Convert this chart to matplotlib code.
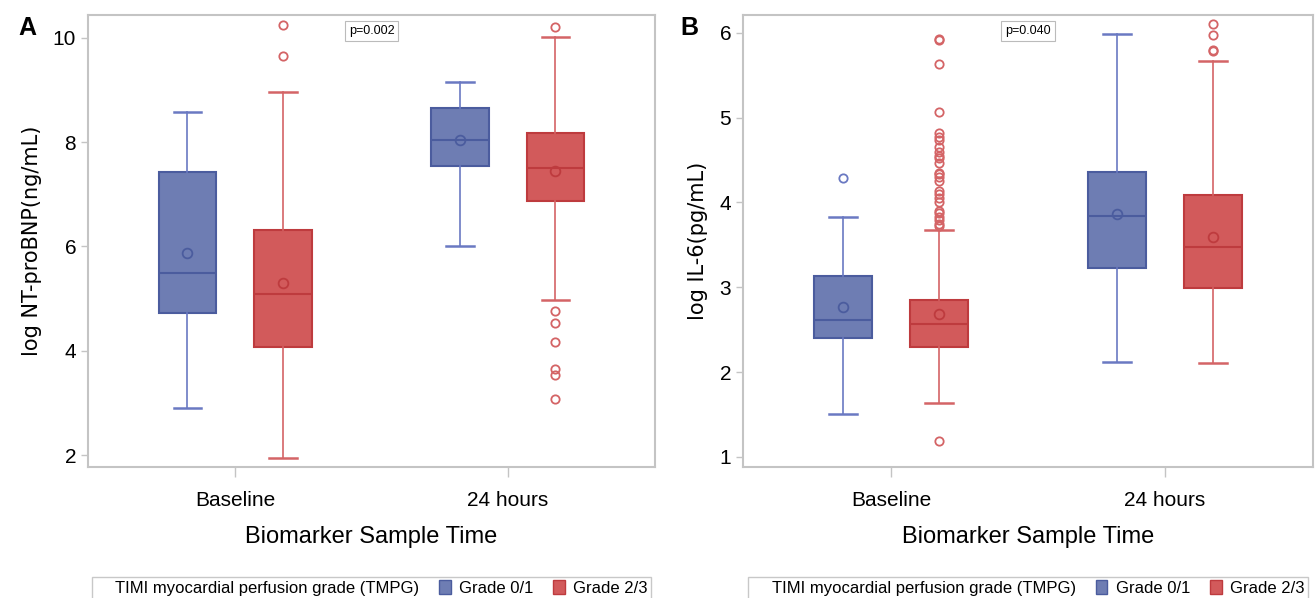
import matplotlib
matplotlib.use("Agg")
import matplotlib.pyplot as plt
from matplotlib.patches import Patch

plt.rcParams['font.family'] = ['Liberation Sans', 'DejaVu Sans']

# categories and groups
times = ["Baseline", "24 hours"]
groups = ["Grade 0/1", "Grade 2/3"]
legend_title = "TIMI myocardial perfusion grade (TMPG)"

# Panel A: log NT-proBNP, per group -> [Baseline, 24 hours]
a_q1 = {"Grade 0/1": [4.73, 7.54], "Grade 2/3": [4.08, 6.88]}
a_med = {"Grade 0/1": [5.50, 8.04], "Grade 2/3": [5.09, 7.51]}
a_q3 = {"Grade 0/1": [7.43, 8.65], "Grade 2/3": [6.31, 8.17]}
a_lo = {"Grade 0/1": [2.90, 6.01], "Grade 2/3": [1.95, 4.98]}
a_hi = {"Grade 0/1": [8.57, 9.16], "Grade 2/3": [8.96, 10.02]}
a_mean = {"Grade 0/1": [5.87, 8.05], "Grade 2/3": [5.29, 7.44]}
a_out = {"Grade 0/1": [[], []],
         "Grade 2/3": [[10.25, 9.65], [10.20, 4.76, 4.54, 4.16, 3.65, 3.54, 3.08]]}

# Panel B: log IL-6
b_q1 = {"Grade 0/1": [2.40, 3.23], "Grade 2/3": [2.30, 2.99]}
b_med = {"Grade 0/1": [2.61, 3.84], "Grade 2/3": [2.57, 3.47]}
b_q3 = {"Grade 0/1": [3.13, 4.36], "Grade 2/3": [2.85, 4.09]}
b_lo = {"Grade 0/1": [1.51, 2.12], "Grade 2/3": [1.64, 2.11]}
b_hi = {"Grade 0/1": [3.83, 5.99], "Grade 2/3": [3.68, 5.67]}
b_mean = {"Grade 0/1": [2.77, 3.86], "Grade 2/3": [2.69, 3.59]}
b_out = {"Grade 0/1": [[4.29], []],
         "Grade 2/3": [[5.93, 5.91, 5.63, 5.06, 4.82, 4.77, 4.73, 4.65, 4.60, 4.55,
                        4.52, 4.47, 4.35, 4.33, 4.30, 4.25, 4.14, 4.10, 4.05, 4.00,
                        3.90, 3.87, 3.83, 3.79, 3.75, 3.72, 1.19],
                       [6.10, 5.97, 5.80, 5.78]]}

fill = {"Grade 0/1": "#6E7DB3", "Grade 2/3": "#D25A5B"}
edge = {"Grade 0/1": "#4B5C9E", "Grade 2/3": "#BE3B3E"}
whisk = {"Grade 0/1": "#6A79C2", "Grade 2/3": "#D46466"}
frame_col = "#C4C4C4"


def draw_panel(ax, q1, med, q3, lo, hi, mean, out, ylabel, ylim, yticks, pval):
    offsets = {"Grade 0/1": -0.175, "Grade 2/3": 0.175}
    for g in groups:
        stats = []
        for i in range(len(times)):
            stats.append(dict(q1=q1[g][i], med=med[g][i], q3=q3[g][i],
                              whislo=lo[g][i], whishi=hi[g][i],
                              mean=mean[g][i], fliers=out[g][i]))
        pos = [i + offsets[g] for i in range(len(times))]
        ax.bxp(stats, positions=pos, widths=0.21, patch_artist=True,
               showmeans=True, manage_ticks=False,
               boxprops=dict(facecolor=fill[g], edgecolor=edge[g], linewidth=1.5),
               medianprops=dict(color=edge[g], linewidth=1.5),
               whiskerprops=dict(color=whisk[g], linewidth=1.2),
               capprops=dict(color=whisk[g], linewidth=1.8),
               capwidths=0.1,
               meanprops=dict(marker='o', markerfacecolor='none',
                              markeredgecolor=edge[g], markersize=7,
                              markeredgewidth=1.3),
               flierprops=dict(marker='o', markerfacecolor='none',
                               markeredgecolor=whisk[g], markersize=6,
                               markeredgewidth=1.3))
    ax.set_xlim(-0.54, 1.54)
    ax.set_ylim(*ylim)
    ax.set_yticks(yticks)
    ax.set_xticks(range(len(times)))
    ax.set_xticklabels(times, fontsize=15)
    ax.tick_params(axis='y', labelsize=15, color=frame_col, length=5, width=1)
    ax.tick_params(axis='x', color=frame_col, length=7, width=1, pad=10)
    for s in ax.spines.values():
        s.set_color(frame_col)
        s.set_linewidth(1.5)
    ax.set_ylabel(ylabel, fontsize=15, family=['DejaVu Sans'], labelpad=8)
    ax.set_xlabel("Biomarker Sample Time", fontsize=17, labelpad=12)
    ax.text(0.5, 0.965, pval, transform=ax.transAxes, ha='center', va='center',
            fontsize=9,
            bbox=dict(boxstyle='square,pad=0.3', facecolor='white', edgecolor='#BBBBBB', linewidth=0.8))
    handles = [Patch(facecolor='none', edgecolor='none', label=legend_title)]
    for g in groups:
        handles.append(Patch(facecolor=fill[g], edgecolor=edge[g], label=g))
    leg = ax.legend(handles=handles, ncol=3, loc='upper center',
                    bbox_to_anchor=(0.5, -0.243), borderaxespad=0, fontsize=12,
                    frameon=True, fancybox=False, handlelength=0.7, handleheight=0.9,
                    handletextpad=0.5, columnspacing=1.2, borderpad=0.2,
                    edgecolor='#BBBBBB')
    leg.get_frame().set_linewidth(1.0)


fig = plt.figure(figsize=(13.15, 5.98), dpi=100)
ax_a = fig.add_axes([0.0669, 0.219, 0.4312, 0.756])
ax_b = fig.add_axes([0.565, 0.219, 0.4335, 0.756])

draw_panel(ax_a, a_q1, a_med, a_q3, a_lo, a_hi, a_mean, a_out,
           "log NT-proBNP(ng/mL)", (1.77, 10.44), [2, 4, 6, 8, 10], "p=0.002")
draw_panel(ax_b, b_q1, b_med, b_q3, b_lo, b_hi, b_mean, b_out,
           "log IL-6(pg/mL)", (0.88, 6.21), [1, 2, 3, 4, 5, 6], "p=0.040")

fig.text(18 / 1315, 1 - 28 / 598, "A", fontsize=18, fontweight='bold', va='center')
fig.text(680 / 1315, 1 - 28 / 598, "B", fontsize=18, fontweight='bold', va='center')

fig.savefig("out.png", dpi=100)
